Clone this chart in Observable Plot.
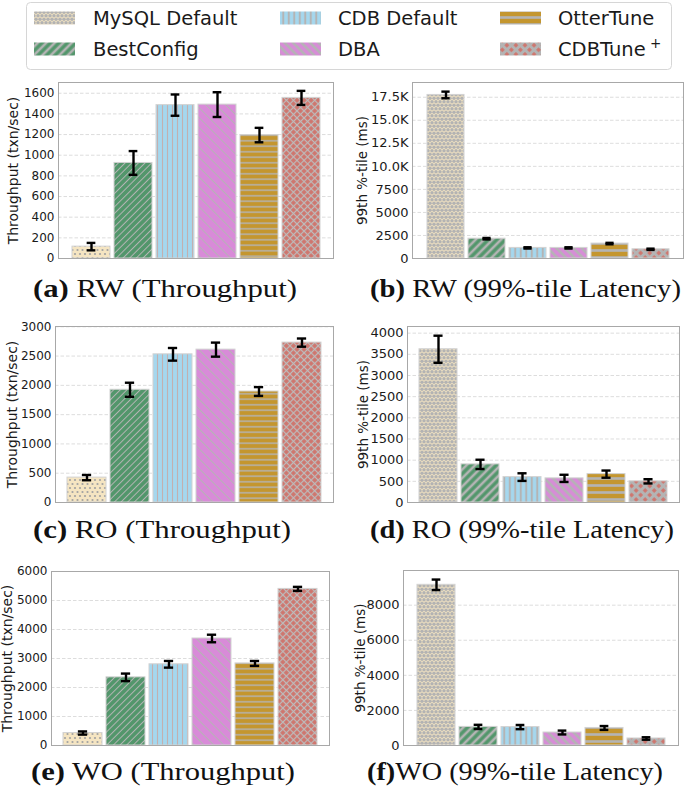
<!DOCTYPE html>
<html><head><meta charset="utf-8">
<script src="https://cdn.jsdelivr.net/npm/d3@7"></script>
<script src="https://cdn.jsdelivr.net/npm/@observablehq/plot@0.6"></script>
<style>
body{margin:0;background:#fff;}
#fig{position:relative;width:685px;height:788px;overflow:hidden;background:#fff;}
.panel{position:absolute;}
#overlay{position:absolute;left:0;top:0;}
</style></head><body><div id="fig"></div>
<script>
// ---------- data ----------
const systems = ["MySQL Default", "BestConfig", "CDB Default", "DBA", "OtterTune", "CDBTune+"];

const rwThroughput    = [115, 925, 1485, 1490, 1195, 1555];
const rwThroughputErr = [36, 115, 103, 120, 70, 68];
const rwLatency       = [17750, 2150, 1150, 1150, 1620, 1000];
const rwLatencyErr    = [360, 80, 70, 70, 80, 70];

const roThroughput    = [425, 1925, 2530, 2610, 1895, 2730];
const roThroughputErr = [45, 120, 108, 120, 75, 70];
const roLatency       = [3620, 900, 600, 570, 670, 500];
const roLatencyErr    = [320, 110, 90, 85, 85, 50];

const woThroughput    = [430, 2350, 2800, 3690, 2830, 5400];
const woThroughputErr = [55, 130, 115, 130, 85, 70];
const woLatency       = [9160, 1060, 1050, 740, 1000, 400];
const woLatencyErr    = [300, 120, 120, 110, 110, 70];

const rwThroughputTicks = [0, 200, 400, 600, 800, 1000, 1200, 1400, 1600];
const rwThroughputTickLabels = ["0", "200", "400", "600", "800", "1000", "1200", "1400", "1600"];
const rwLatencyTicks = [0, 2500, 5000, 7500, 10000, 12500, 15000, 17500];
const rwLatencyTickLabels = ["0", "2500", "5000", "7500", "10.0K", "12.5K", "15.0K", "17.5K"];
const roThroughputTicks = [0, 500, 1000, 1500, 2000, 2500, 3000];
const roThroughputTickLabels = ["0", "500", "1000", "1500", "2000", "2500", "3000"];
const roLatencyTicks = [0, 500, 1000, 1500, 2000, 2500, 3000, 3500, 4000];
const roLatencyTickLabels = ["0", "500", "1000", "1500", "2000", "2500", "3000", "3500", "4000"];
const woThroughputTicks = [0, 1000, 2000, 3000, 4000, 5000, 6000];
const woThroughputTickLabels = ["0", "1000", "2000", "3000", "4000", "5000", "6000"];
const woLatencyTicks = [0, 2000, 4000, 6000, 8000];
const woLatencyTickLabels = ["0", "2000", "4000", "6000", "8000"];

const throughputLabel = "Throughput (txn/sec)";
const latencyLabel = "99th %-tile (ms)";

const captionLetters = ["(a)", "(b)", "(c)", "(d)", "(e)", "(f)"];
const captionTexts = [" RW (Throughput)", " RW (99%-tile Latency)", " RO (Throughput)", " RO (99%-tile Latency)", " WO (Throughput)", "WO (99%-tile Latency)"];

// ---------- styles ----------
const fills = ["#f5e5c2", "#52966b", "#a5d7ee", "#d88bd8", "#c4962f", "#cf756d"];
const hatch = "#b4b4b4";

function stripe(id, bg, spacing, width, angle, color, cross) {
  let s = `<pattern id="${id}" patternUnits="userSpaceOnUse" width="${spacing}" height="${spacing}" patternTransform="rotate(${angle})">`;
  s += `<rect width="${spacing}" height="${spacing}" fill="${bg}"/>`;
  s += `<rect x="${(spacing - width) / 2}" y="0" width="${width}" height="${spacing}" fill="${color}"/>`;
  if (cross) s += `<rect x="0" y="${(spacing - width) / 2}" width="${spacing}" height="${width}" fill="${color}"/>`;
  return s + `</pattern>`;
}
function dots(id, bg, dx, dy, r, color) {
  const w = 2 * dx, h = 2 * dy;
  let s = `<pattern id="${id}" patternUnits="userSpaceOnUse" width="${w}" height="${h}">`;
  s += `<rect width="${w}" height="${h}" fill="${bg}"/>`;
  const pts = [[dx / 2, dy / 2], [dx * 1.5, dy / 2], [0, dy * 1.5], [dx, dy * 1.5], [2 * dx, dy * 1.5]];
  for (const [x, y] of pts) s += `<circle cx="${x}" cy="${y}" r="${r}" fill="${color}"/>`;
  return s + `</pattern>`;
}
const defs =
  // thin set (throughput)
  dots("t-pat-0", fills[0], 5, 4, 1.1, "#a2a2a2") +
  stripe("t-pat-1", fills[1], 4.7, 1, 45, hatch) +
  stripe("t-pat-2", fills[2], 5, 1.1, 0, "#c2b0b0") +
  stripe("t-pat-3", fills[3], 7, 1, -45, hatch) +
  stripe("t-pat-4", fills[4], 5.5, 1.4, 90, hatch) +
  stripe("t-pat-5", fills[5], 5, 1.2, 45, "#bcbcbc", true) +
  // thick set (latency + legend)
  dots("l-pat-0", fills[0], 4, 3.5, 1.75, "#b3b3b3") +
  stripe("l-pat-1", fills[1], 6, 2.6, 45, hatch) +
  stripe("l-pat-2", fills[2], 5.5, 2, 0, hatch) +
  stripe("l-pat-3", fills[3], 6, 2.6, -45, hatch) +
  stripe("l-pat-4", fills[4], 7, 2.6, 90, hatch) +
  stripe("l-pat-5", fills[5], 6.4, 3, 45, hatch, true);

const fig = document.getElementById("fig");

// overlay: pattern defs, legend, captions
const legendFont = 19.5;
const legendCols = [{px: 34, tx: 93}, {px: 280, tx: 338}, {px: 500, tx: 558}];
const legendRows = [18, 49];
let ov = `<svg id="overlay" width="685" height="788" xmlns="http://www.w3.org/2000/svg"><defs>${defs}</defs>`;
ov += `<rect x="26.5" y="2.5" width="645" height="67" rx="4" fill="#fff" stroke="#d6d6d6" stroke-width="1"/>`;
systems.forEach((s, i) => {
  const c = legendCols[Math.floor(i / 2)], r = legendRows[i % 2];
  ov += `<rect x="${c.px}" y="${r - 6.5}" width="41" height="13" fill="url(#l-pat-${i})"/>`;
  if (s.endsWith("+")) {
    ov += `<text x="${c.tx}" y="${r + 7}" font-family="DejaVu Sans" font-size="${legendFont}" fill="#1a1a1a">${s.slice(0, -1)}</text>`;
    ov += `<text x="${c.tx + 92}" y="${r - 1}" font-family="DejaVu Sans" font-size="13.5" fill="#1a1a1a">+</text>`;
  } else {
    ov += `<text x="${c.tx}" y="${r + 7}" font-family="DejaVu Sans" font-size="${legendFont}" fill="#1a1a1a">${s}</text>`;
  }
});
const capPos = [[33, 264, 297], [370, 311, 297], [33, 258, 538], [370, 304, 538], [31, 264, 780], [367, 296, 780]];
captionLetters.forEach((l, i) => {
  const [x, w, y] = capPos[i];
  ov += `<text x="${x}" y="${y}" textLength="${w}" lengthAdjust="spacingAndGlyphs" font-family="Liberation Serif, serif" font-size="25" fill="#111"><tspan font-weight="bold">${l}</tspan>${captionTexts[i]}</text>`;
});
ov += `</svg>`;
fig.insertAdjacentHTML("beforeend", ov);

// ---------- panels ----------
const panels = [
  {values: rwThroughput, errs: rwThroughputErr, ticks: rwThroughputTicks, labels: rwThroughputTickLabels, yMax: 1704, label: throughputLabel, kind: "t",
   x0: 0, y0: 72, w: 342, h: 200, L: 58, R: 333, T: 82, B: 258, off: 44.5, fs: 12, ls: 14},
  {values: rwLatency, errs: rwLatencyErr, ticks: rwLatencyTicks, labels: rwLatencyTickLabels, yMax: 19100, label: latencyLabel, kind: "l",
   x0: 342, y0: 72, w: 343, h: 200, L: 412, R: 683, T: 82, B: 258, off: 50, fs: 13, ls: 13.5},
  {values: roThroughput, errs: roThroughputErr, ticks: roThroughputTicks, labels: roThroughputTickLabels, yMax: 3005, label: throughputLabel, kind: "t",
   x0: 0, y0: 314, w: 342, h: 200, L: 55, R: 333, T: 326, B: 502, off: 43, fs: 12, ls: 14},
  {values: roLatency, errs: roLatencyErr, ticks: roLatencyTicks, labels: roLatencyTickLabels, yMax: 4157, label: latencyLabel, kind: "l",
   x0: 342, y0: 314, w: 343, h: 200, L: 407, R: 679, T: 326, B: 502, off: 43.5, fs: 13, ls: 13.5},
  {values: woThroughput, errs: woThroughputErr, ticks: woThroughputTicks, labels: woThroughputTickLabels, yMax: 6000, label: throughputLabel, kind: "t",
   x0: 0, y0: 556, w: 342, h: 200, L: 51, R: 329, T: 571, B: 745, off: 43.5, fs: 12, ls: 14},
  {values: woLatency, errs: woLatencyErr, ticks: woLatencyTicks, labels: woLatencyTickLabels, yMax: 9976, label: latencyLabel, kind: "l",
   x0: 342, y0: 556, w: 343, h: 200, L: 403, R: 678, T: 570, B: 745, off: 42.5, fs: 13, ls: 13.5}
];

for (const p of panels) {
  const data = systems.map((s, i) => ({system: s, value: p.values[i], err: p.errs[i]}));
  const pi = 0.1, po = 0.28;
  const innerW = p.R - p.L;
  const step = innerW / (systems.length - pi + 2 * po);
  const bw = step * (1 - pi);
  const capInset = Math.max(0, (bw - 9) / 2);
  const fmt = new Map(p.ticks.map((t, i) => [t, p.labels[i]]));
  const chart = Plot.plot({
    width: p.w, height: p.h,
    marginLeft: p.L - p.x0, marginRight: p.x0 + p.w - p.R,
    marginTop: p.T - p.y0, marginBottom: p.y0 + p.h - p.B,
    style: {fontFamily: "DejaVu Sans, sans-serif", fontSize: p.fs + "px", color: "#1a1a1a", background: "transparent", overflow: "visible"},
    x: {domain: systems, axis: null, paddingInner: pi, paddingOuter: po, align: 0.5},
    y: {domain: [0, p.yMax], ticks: p.ticks, tickFormat: d => fmt.get(d), tickSize: 0, tickPadding: 4, label: null},
    color: {domain: systems, range: systems.map((s, i) => `url(#${p.kind}-pat-${i})`)},
    marks: [
      Plot.ruleY(p.ticks.filter(t => t > 0), {stroke: "#d9d9d9", strokeDasharray: "3.5,2", strokeWidth: 0.9}),
      Plot.barY(data, {x: "system", y: "value", fill: "system", stroke: "#d2d2d2", strokeWidth: 1}),
      Plot.ruleX(data, {x: "system", y1: d => d.value - d.err, y2: d => d.value + d.err, stroke: "#000", strokeWidth: 2.4}),
      Plot.tickY(data, {x: "system", y: d => d.value + d.err, stroke: "#000", strokeWidth: 2.4, insetLeft: capInset, insetRight: capInset}),
      Plot.tickY(data, {x: "system", y: d => d.value - d.err, stroke: "#000", strokeWidth: 2.4, insetLeft: capInset, insetRight: capInset}),
      Plot.frame({stroke: "#a8a8a8", strokeWidth: 1}),
      Plot.text([p.label], {text: d => d, frameAnchor: "left", rotate: -90, dx: -p.off, textAnchor: "middle", lineAnchor: "middle", fontSize: p.ls, fill: "#1a1a1a"})
    ]
  });
  chart.classList.add("panel");
  chart.style.left = p.x0 + "px";
  chart.style.top = p.y0 + "px";
  fig.appendChild(chart);
}
</script></body></html>
